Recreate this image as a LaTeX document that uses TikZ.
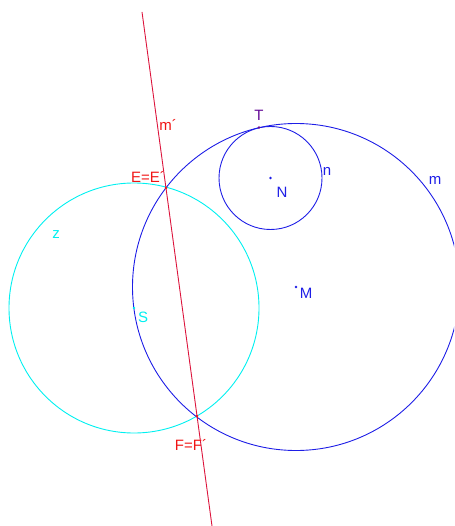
\documentclass[tikz,border=0pt]{standalone}
\usepackage{fontspec}
\setmainfont{Liberation Sans}
\definecolor{cblue}{RGB}{30,30,230}
\definecolor{ccyan}{RGB}{0,240,240}
\definecolor{cline}{RGB}{220,20,60}
\definecolor{cred}{RGB}{240,20,20}
\definecolor{cpurple}{RGB}{100,10,150}
\begin{document}
\begin{tikzpicture}[x=1pt,y=-1pt,
  lbl/.style={inner sep=0pt,font=\fontsize{15}{17}\selectfont},
  pt/.style={fill,circle,inner sep=0pt,minimum size=2.6pt}]
\useasboundingbox (0,0) rectangle (454,526);
\clip (0,0) rectangle (454,526);
% points
\coordinate (S) at (134,308);
\coordinate (M) at (296,287);
\coordinate (N) at (270.5,178);
\coordinate (T) at (259,127.5);
\coordinate (E) at (166,188);
\coordinate (F) at (197,416);
\coordinate (Ltop) at (142,12);
\coordinate (Lbot) at (212,526);
% circles
\draw[ccyan,line width=0.9pt] (S) circle (125);
\draw[cblue,line width=0.9pt] (M) circle (163.5);
\draw[cblue,line width=0.9pt] (N) circle (51.5);
% line m'
\draw[cline,line width=0.9pt] (Ltop) -- (Lbot);
% point dots
\node[pt,cblue] (Mp) at (M) {};
\node[pt,cblue] (Np) at (N) {};
\node[pt,cpurple] (Tp) at (T) {};
\node[pt,cred] (Ep) at (E) {};
\node[pt,cred] (Fp) at (F) {};
\node[pt,ccyan] (Sp) at (S) {};
% labels
\node[lbl,cred] (lm2) at (168,125) {m´};
\node[lbl,cred] (lE) at (148,177) {E=E´};
\node[lbl,cpurple] (lT) at (259,115.5) {T};
\node[lbl,cblue] (lN) at (282,192) {N};
\node[lbl,cblue] (ln) at (327,171) {n};
\node[lbl,cblue] (lm) at (435,180) {m};
\node[lbl,ccyan] (lz) at (56,235) {z};
\node[lbl,ccyan] (lS) at (143,317) {S};
\node[lbl,cblue] (lM) at (306,293) {M};
\node[lbl,cred] (lF) at (191,445) {F=F´};
\end{tikzpicture}
\end{document}
